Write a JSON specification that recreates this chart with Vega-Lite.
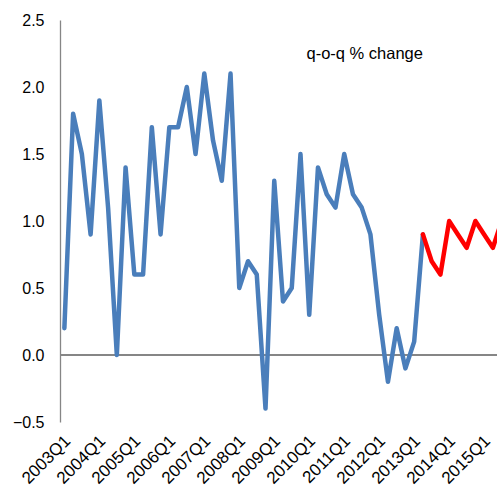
{
  "$schema": "https://vega.github.io/schema/vega-lite/v6.json",
  "autosize": "none",
  "padding": {"left": 60, "top": 20, "right": 0, "bottom": 68},
  "width": 437,
  "height": 402,
  "background": "white",
  "config": {
    "view": {"stroke": null},
    "font": "Liberation Sans",
    "axis": {"labelFont": "Liberation Sans", "labelColor": "black", "labelFontSize": 16}
  },
  "layer": [
    {
      "data": {
        "values": [
          {"q": "2003Q1", "v": 0.2, "s": "actual"},
          {"q": "2003Q2", "v": 1.8, "s": "actual"},
          {"q": "2003Q3", "v": 1.5, "s": "actual"},
          {"q": "2003Q4", "v": 0.9, "s": "actual"},
          {"q": "2004Q1", "v": 1.9, "s": "actual"},
          {"q": "2004Q2", "v": 1.1, "s": "actual"},
          {"q": "2004Q3", "v": 0.0, "s": "actual"},
          {"q": "2004Q4", "v": 1.4, "s": "actual"},
          {"q": "2005Q1", "v": 0.6, "s": "actual"},
          {"q": "2005Q2", "v": 0.6, "s": "actual"},
          {"q": "2005Q3", "v": 1.7, "s": "actual"},
          {"q": "2005Q4", "v": 0.9, "s": "actual"},
          {"q": "2006Q1", "v": 1.7, "s": "actual"},
          {"q": "2006Q2", "v": 1.7, "s": "actual"},
          {"q": "2006Q3", "v": 2.0, "s": "actual"},
          {"q": "2006Q4", "v": 1.5, "s": "actual"},
          {"q": "2007Q1", "v": 2.1, "s": "actual"},
          {"q": "2007Q2", "v": 1.6, "s": "actual"},
          {"q": "2007Q3", "v": 1.3, "s": "actual"},
          {"q": "2007Q4", "v": 2.1, "s": "actual"},
          {"q": "2008Q1", "v": 0.5, "s": "actual"},
          {"q": "2008Q2", "v": 0.7, "s": "actual"},
          {"q": "2008Q3", "v": 0.6, "s": "actual"},
          {"q": "2008Q4", "v": -0.4, "s": "actual"},
          {"q": "2009Q1", "v": 1.3, "s": "actual"},
          {"q": "2009Q2", "v": 0.4, "s": "actual"},
          {"q": "2009Q3", "v": 0.5, "s": "actual"},
          {"q": "2009Q4", "v": 1.5, "s": "actual"},
          {"q": "2010Q1", "v": 0.3, "s": "actual"},
          {"q": "2010Q2", "v": 1.4, "s": "actual"},
          {"q": "2010Q3", "v": 1.2, "s": "actual"},
          {"q": "2010Q4", "v": 1.1, "s": "actual"},
          {"q": "2011Q1", "v": 1.5, "s": "actual"},
          {"q": "2011Q2", "v": 1.2, "s": "actual"},
          {"q": "2011Q3", "v": 1.1, "s": "actual"},
          {"q": "2011Q4", "v": 0.9, "s": "actual"},
          {"q": "2012Q1", "v": 0.3, "s": "actual"},
          {"q": "2012Q2", "v": -0.2, "s": "actual"},
          {"q": "2012Q3", "v": 0.2, "s": "actual"},
          {"q": "2012Q4", "v": -0.1, "s": "actual"},
          {"q": "2013Q1", "v": 0.1, "s": "actual"},
          {"q": "2013Q2", "v": 0.9, "s": "actual"},
          {"q": "2013Q2", "v": 0.9, "s": "forecast"},
          {"q": "2013Q3", "v": 0.7, "s": "forecast"},
          {"q": "2013Q4", "v": 0.6, "s": "forecast"},
          {"q": "2014Q1", "v": 1.0, "s": "forecast"},
          {"q": "2014Q2", "v": 0.9, "s": "forecast"},
          {"q": "2014Q3", "v": 0.8, "s": "forecast"},
          {"q": "2014Q4", "v": 1.0, "s": "forecast"},
          {"q": "2015Q1", "v": 0.9, "s": "forecast"},
          {"q": "2015Q2", "v": 0.8, "s": "forecast"},
          {"q": "2015Q3", "v": 1.0, "s": "forecast"}
        ]
      },
      "layer": [
        {
          "mark": {"type": "rule", "color": "#868686", "strokeWidth": 1.3},
          "encoding": {"y": {"datum": 0, "type": "quantitative"}}
        },
        {
          "mark": {"type": "line", "strokeWidth": 4.5, "clip": true, "strokeJoin": "round", "strokeCap": "round"},
          "encoding": {
            "x": {
              "field": "q",
              "type": "ordinal",
              "scale": {"type": "point", "padding": 0.5, "range": [0, 446]},
              "axis": {
                "title": null,
                "domain": false,
                "ticks": false,
                "labelAngle": -45,
                "labelAlign": "right",
                "labelBaseline": "middle",
                "labelFontSize": 17,
                "labelPadding": 16,
                "labelOffset": 3,
                "values": ["2003Q1","2004Q1","2005Q1","2006Q1","2007Q1","2008Q1","2009Q1","2010Q1","2011Q1","2012Q1","2013Q1","2014Q1","2015Q1"]
              }
            },
            "y": {
              "field": "v",
              "type": "quantitative",
              "scale": {"domain": [-0.5, 2.5], "nice": false, "zero": false},
              "axis": {
                "title": null,
                "grid": false,
                "ticks": false,
                "domainColor": "#868686",
                "domainWidth": 1.3,
                "labelPadding": 16,
                "values": [-0.5, 0, 0.5, 1, 1.5, 2, 2.5],
                "format": ".1f"
              }
            },
            "color": {
              "field": "s",
              "type": "nominal",
              "scale": {"domain": ["actual", "forecast"], "range": ["#4A7EBB", "#FF0000"]},
              "legend": null
            }
          }
        }
      ]
    },
    {
      "data": {"values": [{"label": "q-o-q % change"}]},
      "mark": {"type": "text", "fontSize": 16.5, "font": "Liberation Sans", "color": "black", "align": "center", "baseline": "middle", "dx": 3},
      "encoding": {
        "x": {"datum": "2011Q3", "type": "ordinal"},
        "y": {"datum": 2.25, "type": "quantitative"},
        "text": {"field": "label"}
      }
    }
  ]
}
